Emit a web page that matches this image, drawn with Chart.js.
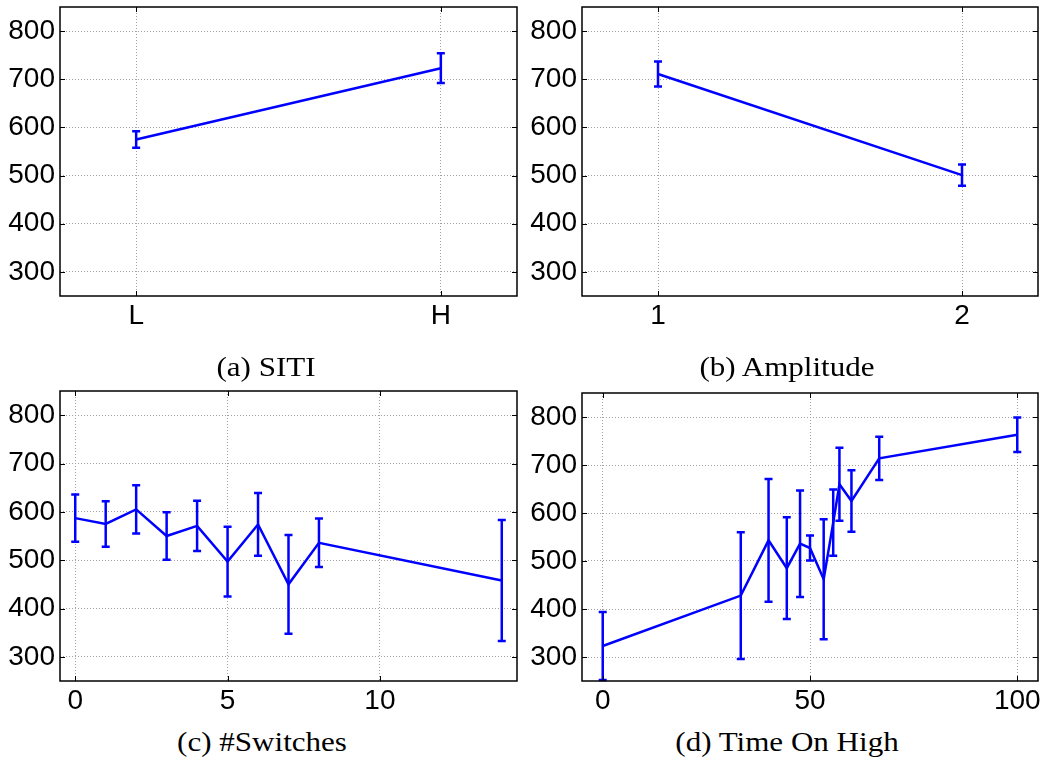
<!DOCTYPE html>
<html>
<head>
<meta charset="utf-8">
<script src="https://cdn.jsdelivr.net/npm/chart.js@4.4.1/dist/chart.umd.min.js"></script>
<style>
  body { margin: 0; background: #fff; }
  #wrap { position: relative; width: 1044px; height: 760px; }
  .panel { position: absolute; }
  .cap {
    position: absolute; width: 522px; text-align: center;
    font-family: "Liberation Serif", serif; font-size: 27px; line-height: 34px; color: #000;
    transform: scaleX(1.15);
  }
</style>
</head>
<body>
<div id="wrap">
  <div class="panel" style="left:0;top:0;width:522px;height:340px"><canvas id="chartA"></canvas></div>
  <div class="panel" style="left:522px;top:0;width:522px;height:340px"><canvas id="chartB"></canvas></div>
  <div class="panel" style="left:0;top:380px;width:522px;height:345px"><canvas id="chartC"></canvas></div>
  <div class="panel" style="left:522px;top:380px;width:522px;height:345px"><canvas id="chartD"></canvas></div>
  <div class="cap" style="left:5px;top:350px">(a) SITI</div>
  <div class="cap" style="left:526px;top:350px">(b) Amplitude</div>
  <div class="cap" style="left:1px;top:725px">(c) #Switches</div>
  <div class="cap" style="left:526px;top:725px">(d) Time On High</div>
</div>
<script>
// (a) SITI
const sitiLabels = ['L', 'H'];
const sitiMean = [575, 723];
const sitiErr = [17, 31];

// (b) Amplitude
const ampLabels = ['1', '2'];
const ampMean = [711, 501];
const ampErr = [26, 22];

// (c) #Switches
const switchX = [0, 1, 2, 3, 4, 5, 6, 7, 8, 14];
const switchMean = [587, 575, 605, 550, 571, 497, 574, 450, 536, 458];
const switchErr = [49, 47, 50, 49, 52, 72, 65, 102, 50, 125];
const switchTicks = [0, 5, 10];

// (d) Time On High
const timeX = [0, 33.3, 40, 44.4, 47.6, 50, 53.3, 55.6, 57.1, 60, 66.7, 100];
const timeMean = [323, 428, 543, 485, 536, 527, 462, 580, 660, 625, 714, 763];
const timeErr = [71, 132, 128, 106, 111, 26, 125, 69, 76, 64, 45, 36];
const timeTicks = [0, 50, 100];

const yTicks = [300, 400, 500, 600, 700, 800];

const BLUE = '#0000ff';
const tickFont = { family: '"Liberation Sans", Arial, sans-serif', size: 28 };

// vertical error bars with caps, drawn from the data through the scales
const errorBars = {
    id: 'errorBars',
    afterDatasetsDraw(chart) {
        const { ctx, chartArea: a, scales } = chart;
        const ds = chart.data.datasets[0];
        ctx.save();
        ctx.beginPath();
        ctx.rect(a.left, a.top - 2, a.right - a.left, a.bottom - a.top + 4);
        ctx.clip();
        ctx.strokeStyle = BLUE;
        ctx.lineWidth = 2.5;
        ds.data.forEach(p => {
            const px = scales.x.getPixelForValue(p.x);
            const top = scales.y.getPixelForValue(p.y + p.err);
            const bot = scales.y.getPixelForValue(p.y - p.err);
            ctx.beginPath();
            ctx.moveTo(px, top); ctx.lineTo(px, bot);
            ctx.moveTo(px - 4, top); ctx.lineTo(px + 4, top);
            ctx.moveTo(px - 4, bot); ctx.lineTo(px + 4, bot);
            ctx.stroke();
        });
        ctx.restore();
    }
};

// matlab style box with inward ticks
const boxFrame = {
    id: 'boxFrame',
    afterDraw(chart) {
        const { ctx, chartArea: a, scales } = chart;
        ctx.save();
        ctx.strokeStyle = '#000';
        ctx.lineWidth = 1;
        ctx.beginPath();
        scales.y.ticks.forEach(t => {
            const py = Math.round(scales.y.getPixelForValue(t.value)) + 0.5;
            ctx.moveTo(a.left, py); ctx.lineTo(a.left + 5, py);
            ctx.moveTo(a.right, py); ctx.lineTo(a.right - 5, py);
        });
        scales.x.ticks.forEach(t => {
            const px = Math.round(scales.x.getPixelForValue(t.value)) + 0.5;
            ctx.moveTo(px, a.bottom); ctx.lineTo(px, a.bottom - 5);
            ctx.moveTo(px, a.top); ctx.lineTo(px, a.top + 5);
        });
        ctx.stroke();
        ctx.lineWidth = 1.5;
        ctx.strokeRect(a.left, a.top, a.right - a.left, a.bottom - a.top);
        ctx.restore();
    }
};

// no extra room for overhanging tick labels, the layout padding decides
function noLabelPadding(s) {
    s.paddingTop = 0;
    s.paddingBottom = 0;
    s.paddingLeft = 0;
    s.paddingRight = 0;
}

function makePanel(id, xs, means, errs, xMin, xMax, xTicks, xLabel, pad) {
    const ctx = document.getElementById(id);
    return new Chart(ctx, {
        type: 'line',
        data: {
            datasets: [{
                data: xs.map((x, i) => ({ x: x, y: means[i], err: errs[i] })),
                borderColor: BLUE,
                borderWidth: 2.5,
                pointRadius: 0,
                tension: 0,
                fill: false
            }]
        },
        options: {
            responsive: true,
            maintainAspectRatio: false,
            animation: false,
            layout: { padding: pad },
            plugins: {
                legend: { display: false },
                tooltip: { enabled: false }
            },
            scales: {
                x: {
                    type: 'linear',
                    min: xMin,
                    max: xMax,
                    afterBuildTicks: axis => { axis.ticks = xTicks.map(v => ({ value: v })); },
                    afterFit: s => { s.height = 44; noLabelPadding(s); },
                    grid: { color: '#a0a0a0', lineWidth: 1, drawTicks: false },
                    border: { display: false, dash: [1, 2] },
                    ticks: {
                        font: tickFont, color: '#000', padding: 3,
                        maxRotation: 0, autoSkip: false,
                        callback: v => xLabel(v)
                    }
                },
                y: {
                    min: 250,
                    max: 850,
                    afterBuildTicks: axis => { axis.ticks = yTicks.map(v => ({ value: v })); },
                    afterFit: s => { s.width = 60; noLabelPadding(s); },
                    grid: { color: '#a0a0a0', lineWidth: 1, drawTicks: false },
                    border: { display: false, dash: [1, 2] },
                    ticks: { font: tickFont, color: '#000', padding: 5 }
                }
            }
        },
        plugins: [errorBars, boxFrame]
    });
}

makePanel('chartA', sitiLabels.map((_, i) => i + 1), sitiMean, sitiErr, 0.75, 2.25,
    [1, 2], v => sitiLabels[v - 1], { top: 7, right: 5, left: 0, bottom: 0 });
makePanel('chartB', ampLabels.map((_, i) => i + 1), ampMean, ampErr, 0.75, 2.25,
    [1, 2], v => ampLabels[v - 1], { top: 7, right: 6, left: 0, bottom: 0 });
makePanel('chartC', switchX, switchMean, switchErr, -0.5, 14.5,
    switchTicks, v => String(v), { top: 11, right: 5, left: 0, bottom: 0 });
makePanel('chartD', timeX, timeMean, timeErr, -5, 105,
    timeTicks, v => String(v), { top: 13, right: 6, left: 0, bottom: 0 });
</script>
</body>
</html>
